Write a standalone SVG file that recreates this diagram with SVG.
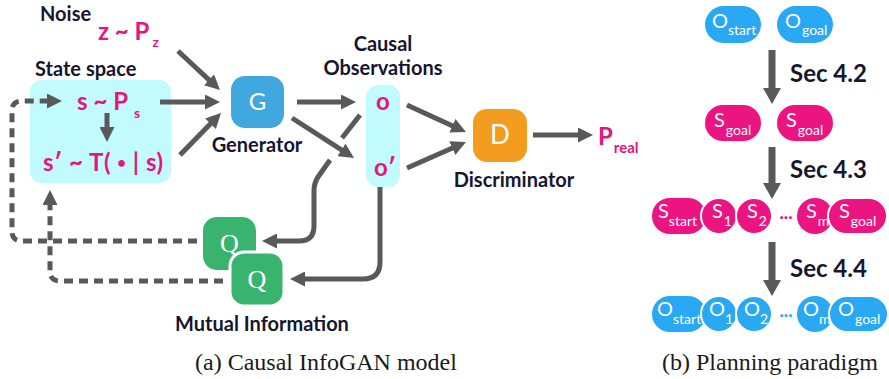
<svg xmlns="http://www.w3.org/2000/svg" width="889" height="379" viewBox="0 0 889 379">
<defs>
<style>
.lbl{font-family:Lato,"Open Sans","DejaVu Sans",sans-serif;font-weight:700;font-size:20px;fill:#16162e}
.sec{font-family:Lato,"Open Sans","DejaVu Sans",sans-serif;font-weight:700;font-size:24px;fill:#16162e}
.pk{font-family:Lato,"Open Sans","DejaVu Sans",sans-serif;font-weight:700;font-size:24px;fill:#e6157f}
.sub{font-size:14px}
.wt{font-family:Lato,"Open Sans","DejaVu Sans",sans-serif;font-weight:400;fill:#ffffff}
.qt{font-family:"Liberation Serif","Times New Roman",serif;font-size:26px;fill:#ffffff}
.cap{font-family:"Liberation Serif","Times New Roman",serif;font-size:24px;fill:#1a1a1a}
.arr{stroke:#595959;stroke-width:5;fill:none}
.dash{stroke-dasharray:9 6}
.big{stroke:#595959;stroke-width:7;fill:none}
.cy{fill:#c2fbfd}
.bl{fill:#29a9f3}
.pn{fill:#ec1480}
.ov{stroke:#ffffff;stroke-width:2}
</style>
<marker id="ah" viewBox="0 0 15 15" refX="7" refY="7.5" markerWidth="15" markerHeight="15" markerUnits="userSpaceOnUse" orient="auto">
<path d="M0,0 L15,7.5 L0,15 z" fill="#595959"/>
</marker>
<marker id="bh" viewBox="0 0 18 18" refX="6" refY="9" markerWidth="18" markerHeight="18" markerUnits="userSpaceOnUse" orient="auto">
<path d="M0,0 L16,9 L0,18 z" fill="#595959"/>
</marker>
</defs>

<!-- Part (a) -->
<g id="noise">
<text class="lbl" x="40" y="21">Noise</text>
<text class="pk" x="98" y="40">z ~ P<tspan class="sub" dx="3" dy="7">z</tspan></text>
</g>

<g id="state-space">
<text class="lbl" x="35" y="76">State space</text>
<rect class="cy" x="30" y="80" width="141" height="103" rx="12"/>
<text class="pk" x="77" y="110">s ~ P<tspan class="sub" dx="6" dy="8">s</tspan></text>
<text class="pk" x="43" y="171" textLength="120">s′ ~ T( <tspan font-size="15" dy="-3">•</tspan><tspan dy="3"> | s)</tspan></text>
</g>

<g id="generator">
<rect x="231" y="76" width="53" height="52" rx="14" fill="#41a7df"/>
<text class="wt" x="257.5" y="110" font-size="24" text-anchor="middle">G</text>
<text class="lbl" x="257" y="152" text-anchor="middle">Generator</text>
</g>

<g id="observations">
<text class="lbl" x="383" y="51" text-anchor="middle">Causal</text>
<text class="lbl" x="383" y="75" text-anchor="middle">Observations</text>
<rect class="cy" x="366" y="85" width="34" height="102" rx="12"/>
<text class="pk" x="383" y="110" text-anchor="middle">o</text>
<text class="pk" x="385" y="176" text-anchor="middle">o′</text>
</g>

<g id="discriminator">
<rect x="473" y="109" width="54" height="53" rx="14" fill="#f39c1f"/>
<text class="wt" x="500" y="144" font-size="26" text-anchor="middle">D</text>
<text class="lbl" x="514" y="187" text-anchor="middle">Discriminator</text>
</g>

<g id="p-real">
<text class="pk" x="598" y="145" font-size="27">P<tspan font-size="15" dx="1" dy="8">real</tspan></text>
</g>

<g id="mutual-information">
<rect x="203" y="217" width="53" height="53" rx="14" fill="#38b46f"/>
<text class="qt" x="229.5" y="252" text-anchor="middle">Q</text>
<rect x="230" y="252" width="54" height="54" rx="14" fill="#38b46f" stroke="#ffffff" stroke-width="3"/>
<text class="qt" x="257" y="288" text-anchor="middle">Q</text>
<text class="lbl" x="262" y="331" text-anchor="middle">Mutual Information</text>
</g>

<g id="connectors-a">
<path class="arr" d="M178,51 L214.1,84.6" marker-end="url(#ah)"/>
<path class="arr" d="M160,102 L212,102" marker-end="url(#ah)"/>
<path class="arr" d="M180,155 L215.4,118.7" marker-end="url(#ah)"/>
<path class="arr" d="M107,113 L107,134" marker-end="url(#ah)"/>
<path class="arr" d="M297,102 L348,102" marker-end="url(#ah)"/>
<path class="arr" d="M292,118 L347.3,153.7" marker-end="url(#ah)"/>
<path class="arr" d="M407,105 L458.7,128.7" marker-end="url(#ah)"/>
<path class="arr" d="M407,168 L458.7,145.2" marker-end="url(#ah)"/>
<path class="arr" d="M533,135 L585,135" marker-end="url(#ah)"/>
<path class="arr" d="M360,115 L342,138"/>
<path class="arr" d="M330,160 L318,177 Q314,183 314,191 L314,226 Q314,241 299,241 L270,241" marker-end="url(#ah)"/>
<path class="arr" d="M380,187 L380,262 Q380,279 363,279 L298,279" marker-end="url(#ah)"/>
<path class="arr dash" d="M197,241 L22,241 Q12,241 12,231 L12,111 Q12,101 22,101 L54,101" marker-end="url(#ah)"/>
<path class="arr dash" d="M223,281 L60,281 Q50,281 50,271 L50,198" marker-end="url(#ah)"/>
</g>

<text class="cap" x="195" y="370">(a) Causal InfoGAN model</text>

<!-- Part (b) -->
<g id="row-obs-goal">
<rect class="bl" x="705" y="6" width="56" height="37" rx="18.5"/>
<text class="wt" x="712" y="28" font-size="20">O<tspan font-size="14" dy="7">start</tspan></text>
<rect class="bl" x="777" y="6" width="56" height="37" rx="18.5"/>
<text class="wt" x="785" y="28" font-size="20">O<tspan font-size="14" dx="1" dy="7">goal</tspan></text>
</g>

<g id="row-state-goal">
<rect class="pn" x="705" y="105" width="56" height="36" rx="18"/>
<text class="wt" x="714" y="127" font-size="20">S<tspan font-size="14" dx="1" dy="8">goal</tspan></text>
<rect class="pn" x="777" y="105" width="56" height="36" rx="18"/>
<text class="wt" x="786" y="127" font-size="20">S<tspan font-size="14" dx="1" dy="8">goal</tspan></text>
</g>

<g id="row-state-plan">
<rect class="pn" x="652" y="198" width="54" height="36" rx="18"/>
<text class="wt" x="658" y="218" font-size="20">S<tspan font-size="14" dy="8">start</tspan></text>
<circle class="pn ov" cx="719" cy="216" r="18"/>
<text class="wt" x="712" y="218" font-size="20">S<tspan font-size="14" dx="1" dy="8">1</tspan></text>
<circle class="pn ov" cx="754" cy="216" r="18"/>
<text class="wt" x="747" y="218" font-size="20">S<tspan font-size="14" dx="1" dy="8">2</tspan></text>
<text x="786" y="222" font-family="Lato,'Open Sans',sans-serif" font-weight="700" font-size="16" fill="#ec1480" text-anchor="middle">···</text>
<circle class="pn" cx="815" cy="216" r="18"/>
<text class="wt" x="806" y="218" font-size="20">S<tspan font-size="14" dx="1" dy="8">m</tspan></text>
<rect class="pn ov" x="828" y="198" width="59" height="36" rx="18"/>
<text class="wt" x="839" y="218" font-size="20">S<tspan font-size="14" dx="1" dy="8">goal</tspan></text>
</g>

<g id="row-obs-plan">
<rect class="bl" x="652" y="296" width="54" height="36" rx="18"/>
<text class="wt" x="657" y="316" font-size="20">O<tspan font-size="14" dy="8">start</tspan></text>
<circle class="bl ov" cx="719" cy="314" r="18"/>
<text class="wt" x="709" y="316" font-size="20">O<tspan font-size="14" dy="8">1</tspan></text>
<circle class="bl ov" cx="754" cy="314" r="18"/>
<text class="wt" x="744" y="316" font-size="20">O<tspan font-size="14" dy="8">2</tspan></text>
<text x="786" y="320" font-family="Lato,'Open Sans',sans-serif" font-weight="700" font-size="16" fill="#29a9f3" text-anchor="middle">···</text>
<circle class="bl" cx="815" cy="314" r="18"/>
<text class="wt" x="803" y="316" font-size="20">O<tspan font-size="14" dy="8">m</tspan></text>
<rect class="bl ov" x="829" y="296" width="59" height="36" rx="18"/>
<text class="wt" x="838" y="316" font-size="20">O<tspan font-size="14" dx="1" dy="8">goal</tspan></text>
</g>

<g id="connectors-b">
<path class="big" d="M772,50 L772,94" marker-end="url(#bh)"/>
<path class="big" d="M772,147 L772,189" marker-end="url(#bh)"/>
<path class="big" d="M772,242 L772,286" marker-end="url(#bh)"/>
<text class="sec" x="790" y="82">Sec 4.2</text>
<text class="sec" x="790" y="178">Sec 4.3</text>
<text class="sec" x="790" y="277">Sec 4.4</text>
</g>

<text class="cap" x="662" y="370">(b) Planning paradigm</text>
</svg>
